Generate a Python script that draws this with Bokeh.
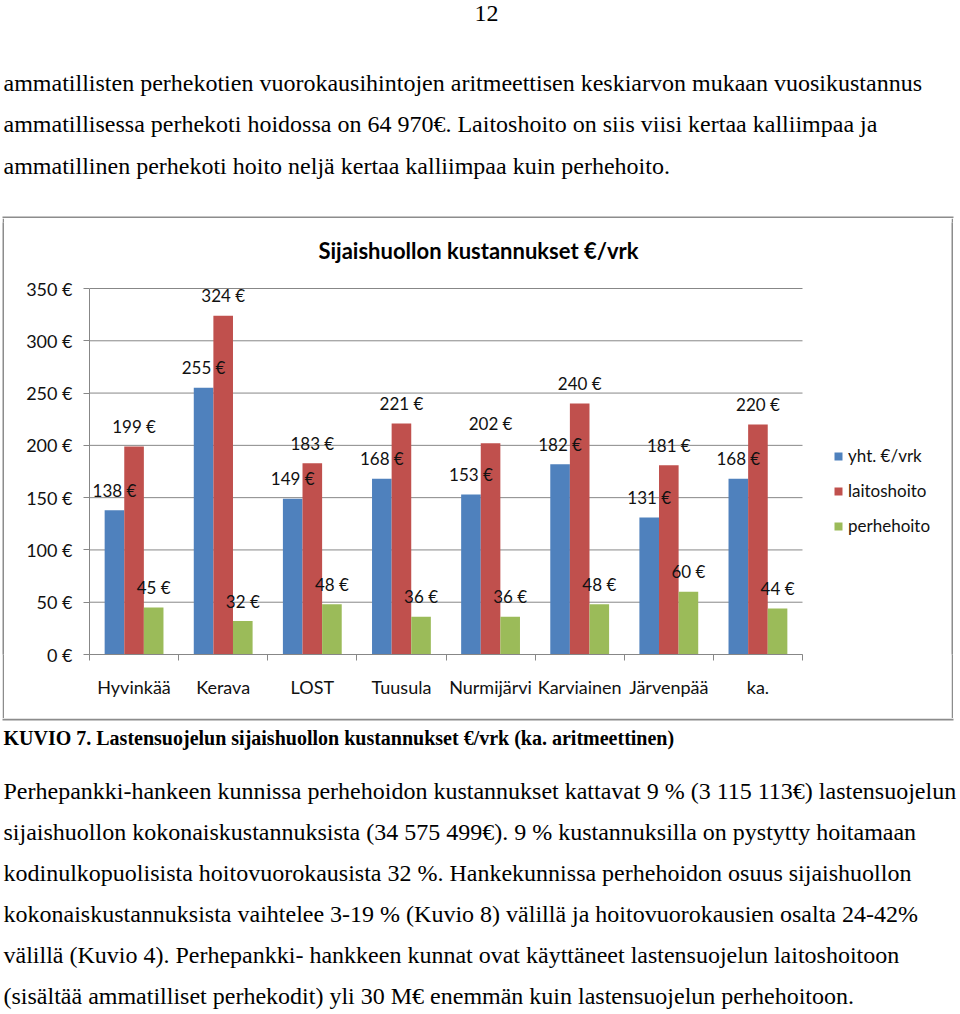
import numpy as np
from bokeh.plotting import figure
from bokeh.layouts import column, row
from bokeh.models import Range1d, FixedTicker, Label, Legend, LegendItem, Spacer
from bokeh.core.properties import value
from bokeh.embed import file_html
from bokeh.resources import INLINE

# ---- data ----
categories = ["Hyvinkää", "Kerava", "LOST", "Tuusula", "Nurmijärvi", "Karviainen", "Järvenpää", "ka."]
yht = [138, 255, 149, 168, 153, 182, 131, 168]
laitoshoito = [199, 324, 183, 221, 202, 240, 181, 220]
perhehoito = [45, 32, 48, 36, 36, 48, 60, 44]
series_names = ["yht. €/vrk", "laitoshoito", "perhehoito"]
y_ticks = [0, 50, 100, 150, 200, 250, 300, 350]

chart_title = "Sijaishuollon kustannukset €/vrk"
page_number = "12"
top_lines = [
    "ammatillisten perhekotien vuorokausihintojen aritmeettisen keskiarvon mukaan vuosikustannus",
    "ammatillisessa perhekoti hoidossa on 64 970€. Laitoshoito on siis viisi kertaa kalliimpaa ja",
    "ammatillinen perhekoti hoito neljä kertaa kalliimpaa kuin perhehoito.",
]
caption = "KUVIO 7. Lastensuojelun sijaishuollon kustannukset €/vrk (ka. aritmeettinen)"
para_lines = [
    "Perhepankki-hankeen kunnissa perhehoidon kustannukset kattavat 9 % (3 115 113€) lastensuojelun",
    "sijaishuollon kokonaiskustannuksista (34 575 499€). 9 % kustannuksilla on pystytty hoitamaan",
    "kodinulkopuolisista hoitovuorokausista 32 %. Hankekunnissa perhehoidon osuus sijaishuollon",
    "kokonaiskustannuksista vaihtelee 3-19 % (Kuvio 8) välillä ja hoitovuorokausien osalta 24-42%",
    "välillä (Kuvio 4). Perhepankki- hankkeen kunnat ovat käyttäneet lastensuojelun laitoshoitoon",
    "(sisältää ammatilliset perhekodit) yli 30 M€ enemmän kuin lastensuojelun perhehoitoon.",
]

# ---- style ----
colors = ["#4F81BD", "#C0504D", "#9BBB59"]
grid_col = "#878787"
border_col = "#8c8c8c"
CH = "Lato"
SERIF = "Liberation Serif"
BODY = "24px"
W = 960
TOP_H = 218          # page y where the chart box starts
CHART_H = 500        # chart box height
BOT_H = 1014 - TOP_H - CHART_H
CX0 = 4              # page x of chart figure left edge
CW = 947             # chart figure width
# frame in page pixels
FL, FR, FT, FB = 89, 948, 222, 654
AX_R = 802           # page x where category axis ends
Y350 = 288           # page y of the top tick


def blank(width, height, yr):
    f = figure(width=width, height=height, output_backend="svg", toolbar_location=None,
               x_range=Range1d(0, width), y_range=yr, min_border=0,
               x_axis_location=None, y_axis_location=None)
    f.grid.visible = False
    f.outline_line_color = None
    f.background_fill_color = "white"
    f.border_fill_color = "white"
    return f


def line_fig(width, height):
    f = figure(width=width, height=height, output_backend="svg", toolbar_location=None,
               min_border=0, x_axis_location=None, y_axis_location=None)
    f.grid.visible = False
    f.outline_line_color = None
    f.background_fill_color = border_col
    f.border_fill_color = border_col
    return f


# ---- top text ----
top = blank(W, TOP_H, Range1d(TOP_H, 0))
top.text(x=[486], y=[13], text=[page_number], text_align="center", text_baseline="middle",
         text_font=value(SERIF), text_font_size=BODY, text_color="black")
top.text(x=[3] * len(top_lines), y=[82 + 41.5 * i for i in range(len(top_lines))], text=top_lines,
         text_align="left", text_baseline="middle", text_font=value(SERIF),
         text_font_size=BODY, text_color="black")
top.quad(left=[2], right=[953], top=[TOP_H - 2], bottom=[TOP_H], fill_color=border_col, line_color=None)

# ---- chart ----
n = len(categories)
px_x = (AX_R - FL) / n
px_y = (FB - Y350) / y_ticks[-1]
p = figure(width=CW, height=CHART_H, output_backend="svg", toolbar_location=None, title=None,
           x_range=Range1d(0, (FR - FL) / px_x), y_range=Range1d(0, (FB - FT) / px_y),
           min_border_left=FL - CX0, min_border_right=CX0 + CW - FR,
           min_border_top=FT - TOP_H, min_border_bottom=TOP_H + CHART_H - FB)
p.outline_line_color = None
p.background_fill_color = "white"
p.border_fill_color = "white"
p.xgrid.visible = False
p.ygrid.visible = False

p.segment(x0=[0] * len(y_ticks), x1=[n] * len(y_ticks), y0=y_ticks, y1=y_ticks,
          line_color=grid_col, line_width=1)

idx = np.arange(n) + 0.5
bw = 0.22
offsets = [-bw, 0.0, bw]
all_vals = [yht, laitoshoito, perhehoito]
renderers = []
for vals, off, col in zip(all_vals, offsets, colors):
    r = p.vbar(x=idx + off, top=vals, width=bw, fill_color=col, line_color=None)
    renderers.append(r)
for vals, off in zip(all_vals, offsets):
    p.text(x=idx + off, y=vals, text=[f"{v} €" for v in vals], text_align="center",
           text_baseline="middle", y_offset=-20, text_font=value(CH), text_font_size="17px",
           text_color="#111111")

p.yaxis.bounds = (0, y_ticks[-1])
p.yaxis.ticker = FixedTicker(ticks=y_ticks)
p.yaxis.major_label_overrides = {t: f"{t} €" for t in y_ticks}
p.yaxis.axis_line_color = grid_col
p.yaxis.major_tick_line_color = grid_col
p.yaxis.major_tick_out = 6
p.yaxis.major_tick_in = 0
p.yaxis.minor_tick_line_color = None
p.yaxis.major_label_standoff = 11
p.yaxis.major_label_text_font = CH
p.yaxis.major_label_text_font_size = "18px"
p.yaxis.major_label_text_color = "#111111"

p.xaxis.bounds = (0, n)
p.xaxis.ticker = FixedTicker(ticks=list(idx), minor_ticks=list(range(n + 1)))
p.xaxis.major_label_overrides = {float(c): name for c, name in zip(idx, categories)}
p.xaxis.axis_line_color = grid_col
p.xaxis.major_tick_line_color = None
p.xaxis.major_tick_out = 0
p.xaxis.major_tick_in = 0
p.xaxis.minor_tick_line_color = grid_col
p.xaxis.minor_tick_out = 6
p.xaxis.minor_tick_in = 0
p.xaxis.major_label_standoff = 15
p.xaxis.major_label_text_font = CH
p.xaxis.major_label_text_font_size = "18px"
p.xaxis.major_label_text_color = "#111111"

legend = Legend(items=[LegendItem(label=nm, renderers=[r]) for nm, r in zip(series_names, renderers)],
                location=(833 - FL, FB - 536), border_line_color=None, background_fill_alpha=0,
                padding=0, margin=0, spacing=14, glyph_height=10, glyph_width=10,
                label_height=20, label_standoff=5, label_text_font=CH, label_text_font_size="17px",
                label_text_color="#111111")
p.add_layout(legend)

p.add_layout(Label(x=478 - FL, y=FB - 250, x_units="screen", y_units="screen", text=chart_title,
                   text_font=CH, text_font_size="22px", text_font_style="bold",
                   text_align="center", text_baseline="middle", text_color="black"))

chart_row = row(Spacer(width=2, height=CHART_H), line_fig(2, CHART_H), p, line_fig(2, CHART_H),
                Spacer(width=W - 2 - 2 - CW - 2, height=CHART_H), spacing=0)

# ---- bottom text ----
bot = blank(W, BOT_H, Range1d(1014, TOP_H + CHART_H))
bot.quad(left=[2], right=[953], top=[TOP_H + CHART_H], bottom=[TOP_H + CHART_H + 2],
         fill_color=border_col, line_color=None)
bot.text(x=[3], y=[737], text=[caption], text_align="left", text_baseline="middle",
         text_font=value(SERIF), text_font_size="20px", text_font_style="bold", text_color="black")
bot.text(x=[3] * len(para_lines), y=[790 + 41.0 * i for i in range(len(para_lines))], text=para_lines,
         text_align="left", text_baseline="middle", text_font=value(SERIF),
         text_font_size=BODY, text_color="black")

page = column(top, chart_row, bot, spacing=0)
open("out.html", "w").write(file_html(page, INLINE))
